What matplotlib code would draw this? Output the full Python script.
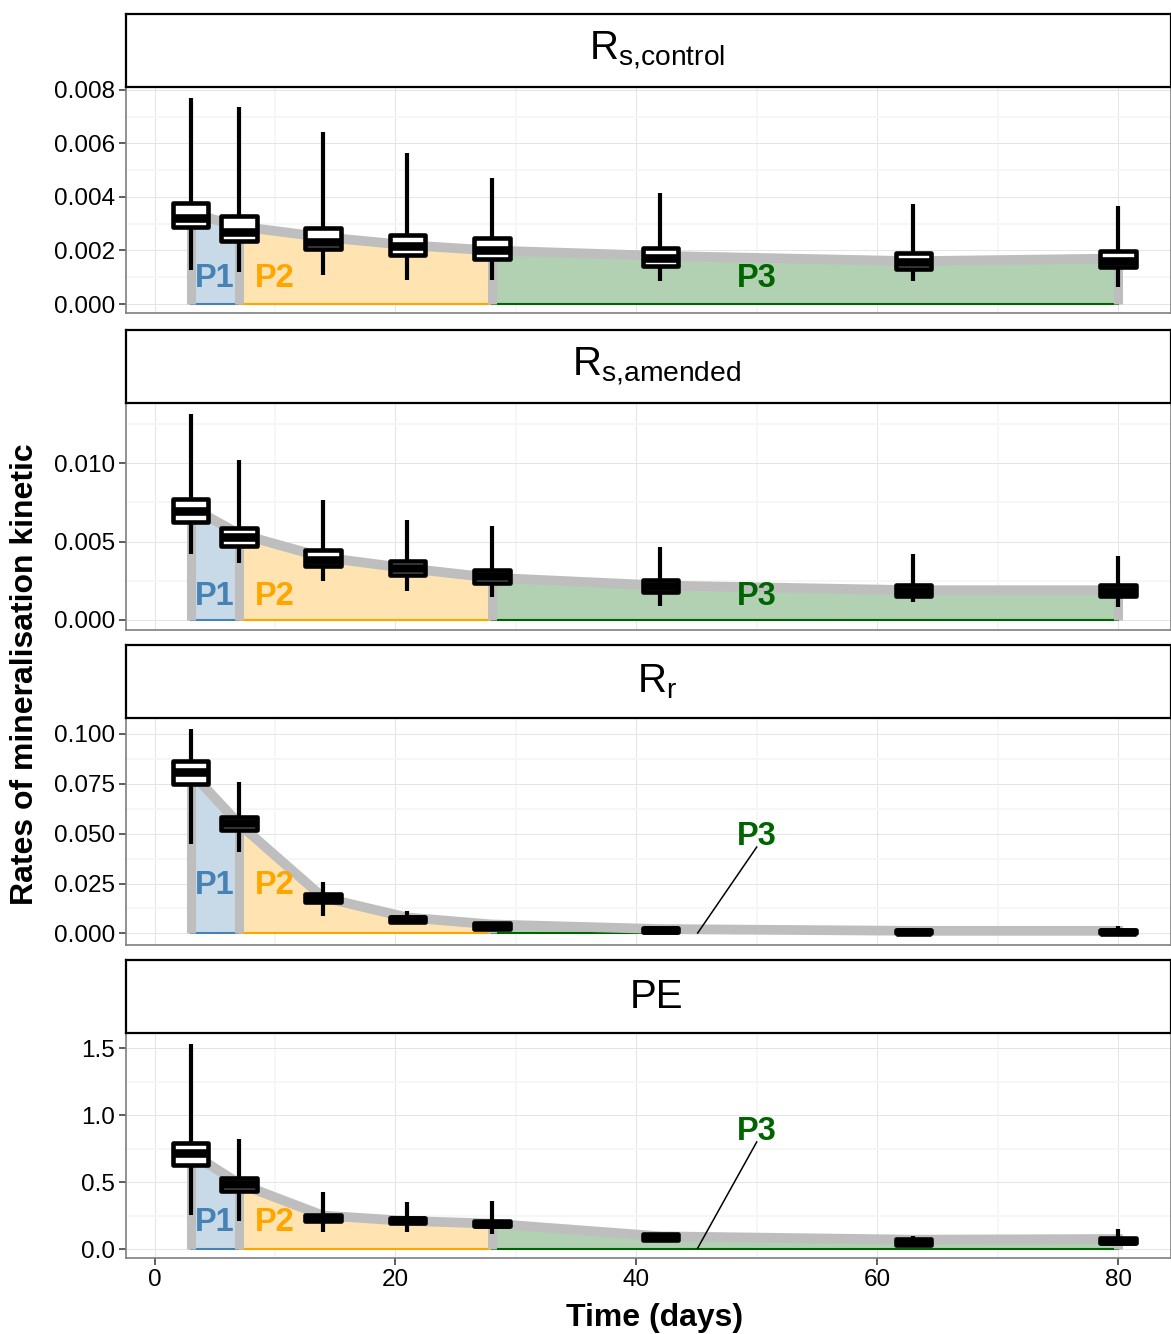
import numpy as np
import matplotlib
matplotlib.use("Agg")
import matplotlib.pyplot as plt
from matplotlib.ticker import MultipleLocator, FormatStrFormatter

plt.rcParams['font.family'] = ['Liberation Sans', 'DejaVu Sans']
plt.rcParams['mathtext.fontset'] = 'custom'
plt.rcParams['mathtext.rm'] = 'Liberation Sans'
plt.rcParams['mathtext.it'] = 'Liberation Sans:italic'

# sampling days
times = np.array([3, 7, 14, 21, 28, 42, 63, 80])

# R s,control
rsc_lo = [0.00127, 0.00120, 0.00108, 0.00090, 0.00090, 0.00086, 0.00086, 0.00065]
rsc_q1 = [0.00288, 0.00234, 0.00204, 0.00184, 0.00170, 0.00141, 0.00132, 0.00137]
rsc_med = [0.00320, 0.00270, 0.00232, 0.00215, 0.00202, 0.00171, 0.00158, 0.00162]
rsc_q3 = [0.00379, 0.00329, 0.00283, 0.00259, 0.00247, 0.00209, 0.00190, 0.00197]
rsc_hi = [0.00770, 0.00738, 0.00644, 0.00566, 0.00472, 0.00414, 0.00374, 0.00368]
rsc_trend = [0.0034, 0.0029, 0.0025, 0.0022, 0.0020, 0.0018, 0.0016, 0.0017]

# R s,amended
rsa_lo = [0.00421, 0.00362, 0.00251, 0.00187, 0.00148, 0.00091, 0.00117, 0.00085]
rsa_q1 = [0.00625, 0.00475, 0.00343, 0.00285, 0.00236, 0.00178, 0.00151, 0.00151]
rsa_med = [0.00697, 0.00527, 0.00385, 0.00334, 0.00281, 0.00218, 0.00188, 0.00188]
rsa_q3 = [0.00774, 0.00589, 0.00445, 0.00379, 0.00321, 0.00253, 0.00222, 0.00222]
rsa_hi = [0.01315, 0.01021, 0.00766, 0.00638, 0.00602, 0.00464, 0.00419, 0.00408]
rsa_trend = [0.0072, 0.0055, 0.0040, 0.0033, 0.0027, 0.0022, 0.0019, 0.0019]

# R r
rr_lo = [0.0448, 0.0409, 0.0088, 0.0050, 0.0020, 0.0004, 0.0001, 0.0001]
rr_q1 = [0.0751, 0.0518, 0.0157, 0.0057, 0.0023, 0.0005, 0.0002, 0.0002]
rr_med = [0.0808, 0.0552, 0.0176, 0.0070, 0.0037, 0.0017, 0.0009, 0.0009]
rr_q3 = [0.0863, 0.0584, 0.0196, 0.0082, 0.0050, 0.0028, 0.0019, 0.0019]
rr_hi = [0.1025, 0.0761, 0.0256, 0.0114, 0.0055, 0.0032, 0.0025, 0.0037]
rr_trend = [0.081, 0.055, 0.018, 0.008, 0.0045, 0.0022, 0.0013, 0.0013]

# PE
pe_lo = [0.254, 0.212, 0.129, 0.129, 0.112, 0.067, 0.030, 0.040]
pe_q1 = [0.630, 0.431, 0.212, 0.194, 0.172, 0.067, 0.032, 0.043]
pe_med = [0.715, 0.484, 0.232, 0.214, 0.190, 0.088, 0.052, 0.062]
pe_q3 = [0.794, 0.533, 0.252, 0.234, 0.209, 0.110, 0.072, 0.082]
pe_hi = [1.532, 0.820, 0.428, 0.354, 0.361, 0.120, 0.099, 0.149]
pe_trend = [0.72, 0.49, 0.25, 0.21, 0.19, 0.095, 0.07, 0.075]

strip_titles = [r'$\mathrm{R}_{\mathrm{s{,}control}}$', r'$\mathrm{R}_{\mathrm{s{,}amended}}$',
                r'$\mathrm{R}_{\mathrm{r}}$', 'PE']
x_ticks = [0, 20, 40, 60, 80]

phases = [('P1', 3, 7, '#4682B4'), ('P2', 7, 28, '#FFA500'), ('P3', 28, 80, '#006400')]

panels = [
    dict(lo=rsc_lo, q1=rsc_q1, med=rsc_med, q3=rsc_q3, hi=rsc_hi, trend=rsc_trend,
         ylim=(-0.000336, 0.00811), step=0.002, fmt='%.3f', lab12=0.00097, lab3=0.00097, arrow=None),
    dict(lo=rsa_lo, q1=rsa_q1, med=rsa_med, q3=rsa_q3, hi=rsa_hi, trend=rsa_trend,
         ylim=(-0.00064, 0.01385), step=0.005, fmt='%.3f', lab12=0.00147, lab3=0.00147, arrow=None),
    dict(lo=rr_lo, q1=rr_q1, med=rr_med, q3=rr_q3, hi=rr_hi, trend=rr_trend,
         ylim=(-0.0058, 0.108), step=0.025, fmt='%.3f', lab12=0.0242, lab3=0.0488,
         arrow=((50, 0.0433), (45.1, 0.0002))),
    dict(lo=pe_lo, q1=pe_q1, med=pe_med, q3=pe_q3, hi=pe_hi, trend=pe_trend,
         ylim=(-0.067, 1.614), step=0.5, fmt='%.1f', lab12=0.20, lab3=0.88,
         arrow=((50, 0.80), (45.1, 0.007))),
]

W, H = 1171, 1334
fig = plt.figure(figsize=(W / 100, H / 100), dpi=100)

panel_px = [(87, 313), (403, 630), (718, 945), (1033, 1258)]
strip_px = [(14, 87), (330, 403), (645, 718), (960, 1033)]
left_px, right_px = 126, 1171

grey = '#BEBEBE'
fills = {'P1': '#C8D9E8', 'P2': '#FFE4B2', 'P3': '#B2D0B2'}

for i, p in enumerate(panels):
    top, bot = panel_px[i]
    ax = fig.add_axes([left_px / W, 1 - bot / H, (right_px - left_px) / W, (bot - top) / H])
    trend = np.array(p['trend'])

    for name, a, b, col in phases:
        m = (times >= a) & (times <= b)
        ax.fill_between(times[m], 0, trend[m], color=fills[name], lw=0, zorder=1)
        ax.plot([a, b], [0, 0], color=col, lw=1.5, zorder=1.5)

    edge_t = [3, 7, 28, 80]
    edge_v = [trend[list(times).index(t)] for t in edge_t]
    ax.vlines(edge_t, 0, edge_v, color=grey, lw=6.5, zorder=2)
    ax.plot(times, trend, color=grey, lw=7, solid_joinstyle='round', zorder=2)

    stats = [dict(whislo=p['lo'][k], q1=p['q1'][k], med=p['med'][k], q3=p['q3'][k],
                  whishi=p['hi'][k]) for k in range(len(times))]
    ax.bxp(stats, positions=times, widths=2.95, patch_artist=True, showfliers=False,
           showcaps=False, manage_ticks=False, zorder=3,
           boxprops=dict(facecolor='white', edgecolor='black', linewidth=3.3, joinstyle='round'),
           medianprops=dict(color='black', linewidth=6.2, solid_capstyle='butt'),
           whiskerprops=dict(color='black', linewidth=3.0, solid_capstyle='butt'))

    ax.text(5, p['lab12'], 'P1', color='#4682B4', fontsize=23.5, fontweight='bold',
            ha='center', va='center', zorder=4)
    ax.text(10, p['lab12'], 'P2', color='#FFA500', fontsize=23.5, fontweight='bold',
            ha='center', va='center', zorder=4)
    ax.text(50, p['lab3'], 'P3', color='#006400', fontsize=23.5, fontweight='bold',
            ha='center', va='center', zorder=4)
    if p['arrow'] is not None:
        (x0, y0), (x1, y1) = p['arrow']
        ax.plot([x0, x1], [y0, y1], color='black', lw=1.1, zorder=4)

    ax.set_xlim(-2.37, 84.4)
    ax.set_ylim(*p['ylim'])
    ax.xaxis.set_major_locator(MultipleLocator(20))
    ax.xaxis.set_minor_locator(MultipleLocator(10))
    ax.yaxis.set_major_locator(MultipleLocator(p['step']))
    ax.yaxis.set_minor_locator(MultipleLocator(p['step'] / 2))
    ax.yaxis.set_major_formatter(FormatStrFormatter(p['fmt']))
    ax.set_axisbelow(True)
    ax.grid(which='major', color='#E5E5E5', lw=0.7)
    ax.grid(which='minor', color='#F6F6F6', lw=1.3)
    for s in ax.spines.values():
        s.set_color('#7F7F7F')
        s.set_linewidth(1.2)
    ax.tick_params(axis='y', which='major', labelsize=17.5, length=5, width=1.1,
                   color='#333333', labelcolor='black', pad=3)
    ax.tick_params(which='minor', length=0)
    if i < 3:
        ax.tick_params(axis='x', which='both', length=0, labelbottom=False)
    else:
        ax.set_xticks(x_ticks)
        ax.tick_params(axis='x', which='major', labelsize=17.5, length=5, width=1.1,
                       color='#333333', labelcolor='black', pad=3)

    st, sb = strip_px[i]
    sax = fig.add_axes([left_px / W, 1 - sb / H, (right_px - left_px) / W, (sb - st) / H])
    sax.set_xticks([])
    sax.set_yticks([])
    sax.set_facecolor('white')
    for s in sax.spines.values():
        s.set_color('black')
        s.set_linewidth(1.6)
    sax.text(0.508, 0.5, strip_titles[i], fontsize=29, ha='center', va='center',
             transform=sax.transAxes)

fig.text(25 / W, 1 - 674 / H, 'Rates of mineralisation kinetic', rotation=90,
         fontsize=23, fontweight='bold', ha='center', va='center')
fig.text(655 / W, 1 - 1318 / H, 'Time (days)', fontsize=23, fontweight='bold',
         ha='center', va='center')

fig.savefig('out.png', dpi=100)
